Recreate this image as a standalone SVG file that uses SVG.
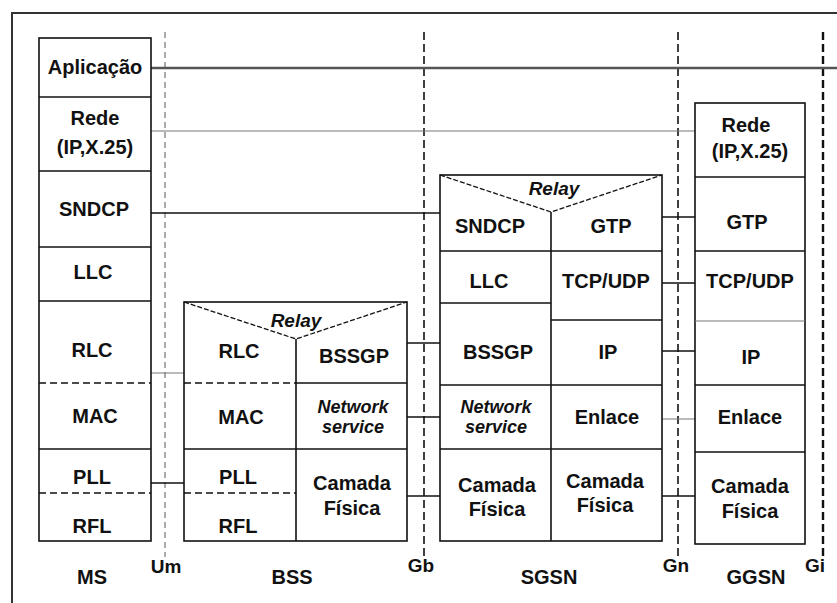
<svg xmlns="http://www.w3.org/2000/svg" width="837" height="603" viewBox="0 0 837 603">
<style>
.box{fill:#fff;stroke:#111;stroke-width:1.6}
.ln{stroke:#111;stroke-width:1.6;fill:none}
.dl{stroke:#111;stroke-width:1.6;fill:none;stroke-dasharray:7 4}
.gl{stroke:#777;stroke-width:1.2;fill:none}
.vd{stroke:#111;stroke-width:1.6;fill:none;stroke-dasharray:8 4}
.rel{stroke:#111;stroke-width:1.3;fill:none;stroke-dasharray:5 2}
text{font-family:"Liberation Sans",Arial,sans-serif;font-weight:bold;font-size:20px;fill:#111;text-anchor:middle}
.it{font-style:italic}
.sm{font-size:19px}
.ns{font-size:18px;font-style:italic}
</style>
<rect width="837" height="603" fill="#fff"/>
<path d="M12,606 V13 H840" fill="none" stroke="#333" stroke-width="2"/>
<g id="interfaces">
<line x1="165" y1="32" x2="165" y2="557" stroke="#888" stroke-width="1.4" stroke-dasharray="6 4"/>
<line class="vd" x1="424" y1="32" x2="424" y2="557"/>
<line class="vd" x1="678" y1="32" x2="678" y2="557"/>
<line x1="823" y1="32" x2="823" y2="557" stroke="#111" stroke-width="2.4" stroke-dasharray="8 4"/>
</g>
<g id="connectors">
<line x1="151" y1="68" x2="837" y2="68" stroke="#555" stroke-width="2.6"/>
<line class="gl" x1="151" y1="131" x2="695" y2="131"/>
<line class="ln" x1="150" y1="213" x2="440" y2="213"/>
<line class="gl" x1="151" y1="373" x2="184" y2="373"/>
<line class="ln" x1="151" y1="483" x2="186" y2="483"/>
<line class="ln" x1="407" y1="343" x2="440" y2="343"/>
<line class="ln" x1="407" y1="417" x2="440" y2="417"/>
<line class="ln" x1="407" y1="496" x2="440" y2="496"/>
<line class="ln" x1="662" y1="217" x2="697" y2="217"/>
<line class="ln" x1="662" y1="283" x2="697" y2="283"/>
<line class="ln" x1="662" y1="351" x2="697" y2="351"/>
<line class="gl" x1="662" y1="419" x2="697" y2="419"/>
<line class="ln" x1="662" y1="496" x2="697" y2="496"/>
</g>
<g id="MS">
<rect class="box" x="39" y="38" width="112" height="503"/>
<line class="ln" x1="39" y1="97" x2="151" y2="97"/>
<line class="ln" x1="39" y1="171" x2="151" y2="171"/>
<line class="ln" x1="39" y1="247" x2="151" y2="247"/>
<line class="ln" x1="39" y1="301" x2="151" y2="301"/>
<line class="dl" x1="39" y1="383" x2="151" y2="383"/>
<line class="ln" x1="39" y1="449" x2="151" y2="449"/>
<line class="dl" x1="39" y1="493" x2="151" y2="493"/>
<text x="95" y="74">Aplicação</text>
<text x="95" y="125">Rede</text>
<text x="95" y="154">(IP,X.25)</text>
<text x="94" y="216">SNDCP</text>
<text x="93" y="279">LLC</text>
<text x="92" y="357">RLC</text>
<text x="95" y="423">MAC</text>
<text x="92" y="484">PLL</text>
<text x="92" y="533">RFL</text>
<text x="92" y="584">MS</text>
</g>
<g id="BSS">
<rect class="box" x="184" y="302" width="223" height="239"/>
<path class="rel" d="M184,302 L296,339 L407,302"/>
<line class="ln" x1="296" y1="339" x2="296" y2="541"/>
<line class="dl" x1="184" y1="383" x2="296" y2="383"/>
<line class="ln" x1="296" y1="383" x2="407" y2="383"/>
<line class="ln" x1="184" y1="449" x2="407" y2="449"/>
<line class="dl" x1="184" y1="493" x2="296" y2="493"/>
<text class="it sm" x="296" y="327">Relay</text>
<text x="239" y="358">RLC</text>
<text x="354" y="363">BSSGP</text>
<text x="241" y="424">MAC</text>
<text class="ns" x="353" y="413">Network</text>
<text class="ns" x="353" y="433">service</text>
<text x="238" y="484">PLL</text>
<text x="238" y="533">RFL</text>
<text x="352" y="490">Camada</text>
<text x="352" y="515">Física</text>
<text x="292" y="584">BSS</text>
</g>
<g id="SGSN">
<rect class="box" x="440" y="175" width="222" height="366"/>
<path class="rel" d="M440,175 L551,212 L662,175"/>
<line class="ln" x1="551" y1="212" x2="551" y2="541"/>
<line class="ln" x1="440" y1="251" x2="662" y2="251"/>
<line class="ln" x1="440" y1="303" x2="551" y2="303"/>
<line class="ln" x1="551" y1="320" x2="662" y2="320"/>
<line class="ln" x1="440" y1="385" x2="662" y2="385"/>
<line class="ln" x1="440" y1="449" x2="662" y2="449"/>
<text class="it sm" x="554" y="195">Relay</text>
<text x="490" y="233">SNDCP</text>
<text x="611" y="233">GTP</text>
<text x="489" y="288">LLC</text>
<text x="606" y="288">TCP/UDP</text>
<text x="498" y="359">BSSGP</text>
<text x="608" y="359">IP</text>
<text class="ns" x="496" y="413">Network</text>
<text class="ns" x="496" y="433">service</text>
<text x="607" y="424">Enlace</text>
<text x="497" y="492">Camada</text>
<text x="497" y="516">Física</text>
<text x="605" y="488">Camada</text>
<text x="605" y="512">Física</text>
<text x="549" y="584">SGSN</text>
</g>
<g id="GGSN">
<rect class="box" x="695" y="103" width="110" height="441"/>
<line class="ln" x1="695" y1="177" x2="805" y2="177"/>
<line class="ln" x1="695" y1="251" x2="805" y2="251"/>
<line class="gl" x1="695" y1="321" x2="805" y2="321"/>
<line class="ln" x1="695" y1="385" x2="805" y2="385"/>
<line class="ln" x1="695" y1="452" x2="805" y2="452"/>
<text x="746" y="132">Rede</text>
<text x="750" y="158">(IP,X.25)</text>
<text x="747" y="229">GTP</text>
<text x="750" y="288">TCP/UDP</text>
<text x="751" y="364">IP</text>
<text x="750" y="424">Enlace</text>
<text x="750" y="493">Camada</text>
<text x="750" y="518">Física</text>
<text x="756" y="584">GGSN</text>
</g>
<g id="labels">
<text class="sm" x="166" y="573">Um</text>
<text class="sm" x="421" y="572">Gb</text>
<text class="sm" x="676" y="572">Gn</text>
<text class="sm" x="815" y="572">Gi</text>
</g>
</svg>
